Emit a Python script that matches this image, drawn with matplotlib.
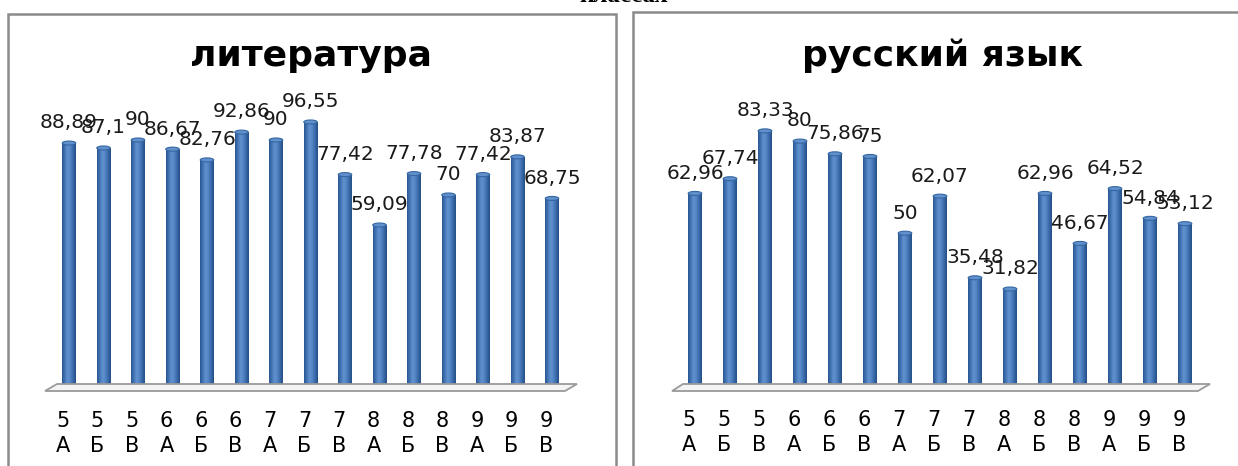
import matplotlib
matplotlib.use("Agg")
import matplotlib.pyplot as plt
import numpy as np
from matplotlib.patches import Polygon, Ellipse, Rectangle
from matplotlib.colors import LinearSegmentedColormap
import matplotlib.transforms as mtransforms

# ---------------- data ----------------
classes = ["5\nА", "5\nБ", "5\nВ", "6\nА", "6\nБ", "6\nВ", "7\nА", "7\nБ",
           "7\nВ", "8\nА", "8\nБ", "8\nВ", "9\nА", "9\nБ", "9\nВ"]
literature = [88.89, 87.1, 90, 86.67, 82.76, 92.86, 90, 96.55,
              77.42, 59.09, 77.78, 70, 77.42, 83.87, 68.75]
russian = [62.96, 67.74, 83.33, 80, 75.86, 75, 50, 62.07,
           35.48, 31.82, 62.96, 46.67, 64.52, 54.84, 53.12]
title_left = "литература"
title_right = "русский язык"
top_text = "классах"

W, H = 1238, 466
fig = plt.figure(figsize=(W / 100, H / 100), dpi=100)
plt.rcParams['font.family'] = ['DejaVu Sans']

def fx(px):
    return px / W

def fy(py):
    return 1 - py / H

# frames
fig.add_artist(Rectangle((fx(8), fy(480)), fx(616 - 8), (480 - 14) / H,
                         transform=fig.transFigure, fill=False,
                         edgecolor="#8a8a8a", linewidth=1.8))
fig.add_artist(Rectangle((fx(633), fy(480)), fx(1260 - 633), (480 - 12) / H,
                         transform=fig.transFigure, fill=False,
                         edgecolor="#8a8a8a", linewidth=1.8))

# cut-off top text
fig.text(fx(624), fy(1.5), top_text, ha="center", va="baseline",
         family=["Liberation Serif", "DejaVu Serif"], fontweight="bold",
         fontsize=18, color="black")

cyl = LinearSegmentedColormap.from_list(
    "cyl", ["#2a5690", "#4275b5", "#6391cf", "#5284c4", "#3a69a8", "#244f86"])
grad = np.linspace(0, 1, 64).reshape(1, -1)


def draw_panel(rect, values, ymax, title, floor_pts, title_xy):
    ax = fig.add_axes(rect)
    ax.set_xlim(-0.5, len(values) - 0.5)
    ax.set_ylim(0, ymax)
    for s in ax.spines.values():
        s.set_visible(False)
    ax.set_yticks([])
    ax.patch.set_alpha(0)
    # floor
    fig.add_artist(Polygon([(fx(x), fy(y)) for x, y in floor_pts],
                           closed=True, transform=fig.transFigure,
                           facecolor="#f4f4f4", edgecolor="#9a9a9a",
                           linewidth=1.3, zorder=0.5))
    bw = 0.39
    xs = np.arange(len(values))
    bars = ax.bar(xs, values, width=bw, color="#4a7dbd", edgecolor="none",
                  zorder=2)
    ppu = rect[3] * H / ymax
    cap_h = 4.0 / ppu
    for b, v in zip(bars, values):
        x0 = b.get_x()
        im = ax.imshow(grad, cmap=cyl, aspect="auto",
                       extent=(x0, x0 + bw, 0, v), zorder=3,
                       interpolation="bilinear")
        im.set_clip_path(b)
        ax.add_patch(Ellipse((x0 + bw / 2, v), bw, cap_h,
                             facecolor="#6190cc", edgecolor="#3567a3",
                             linewidth=0.8, zorder=4))
    for x, v in zip(xs, values):
        lab = f"{v:g}".replace(".", ",")
        ax.annotate(lab, (x, v), xytext=(0, 14.5), textcoords="offset points",
                    ha="center", va="center", fontsize=14.5, color="#1a1a1a",
                    zorder=6)
    ax.set_xticks(xs)
    ax.set_xticklabels(classes, fontsize=15, linespacing=1.28)
    ax.tick_params(axis="x", length=0, pad=17)
    off = mtransforms.ScaledTranslation(-6 / 100, 0, fig.dpi_scale_trans)
    for t in ax.get_xticklabels():
        t.set_transform(t.get_transform() + off)
    fig.text(fx(title_xy[0]), fy(title_xy[1]), title, ha="center",
             va="center", fontsize=26, fontweight="bold", color="black")
    return ax


draw_panel([fx(51.75), fy(387.5), fx(569.25 - 51.75), 275 / H],
           literature, 100, title_left,
           [(57, 384), (577, 384), (565, 391), (45, 391)], (311, 56))
draw_panel([fx(677.5), fy(386.7), fx(1202.5 - 677.5), 90 * 3.07 / H],
           russian, 90, title_right,
           [(683, 384), (1210, 384), (1198, 391), (672, 391)], (942, 56))

fig.savefig("out.png", dpi=100)
